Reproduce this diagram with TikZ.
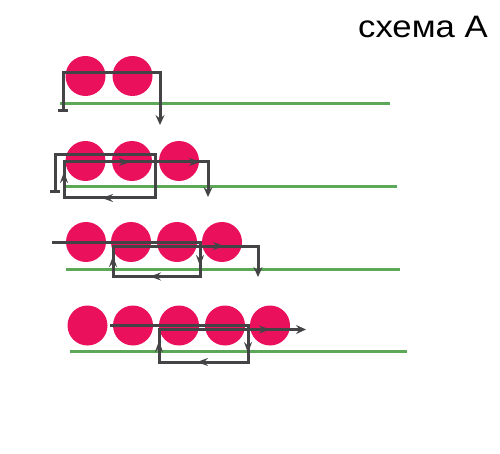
\documentclass[tikz,border=0pt]{standalone}
\usepackage{fontspec}
\setmainfont{Liberation Sans}
\usetikzlibrary{arrows.meta}
\definecolor{ball}{RGB}{234,16,92}
\definecolor{rail}{RGB}{92,168,88}
\definecolor{wire}{RGB}{68,68,70}
\tikzset{
  ballc/.style={fill=ball,draw=none},
  railline/.style={draw=rail,line width=3pt},
  wirepath/.style={draw=wire,line width=3pt,line join=miter},
  tipend/.style={-{Stealth[length=10pt,width=9pt,inset=3.5pt]}},
  barstart/.style={{Bar[width=10pt,line width=3pt]}-{Stealth[length=10pt,width=9pt,inset=3.5pt]}},
  midtip/.style={draw=wire,line width=2.6pt,-{Stealth[length=11pt,width=8pt,inset=4pt]}}
}
\begin{document}
\begin{tikzpicture}[x=1pt,y=-1pt]
\useasboundingbox[fill=white] (0,0) rectangle (500,454);
% title
\node[anchor=base east,font=\fontsize{31}{36}\selectfont,inner sep=0pt,xscale=1.12] (title) at (488,38) {схема А};
% ---- row 1
\foreach \x/\n in {85.5/a,132.5/b}{\fill[ballc] (\x,76) circle (20);}
\draw[railline] (60,103.5) -- (390,103.5);
\coordinate (r1s) at (63,112);
\coordinate (r1a) at (63,73);
\coordinate (r1b) at (160,73);
\coordinate (r1e) at (160,125);
\draw[wirepath,barstart] (r1s) -- (r1a) -- (r1b) -- (r1e);
% ---- row 2
\foreach \x in {85.5,132,179}{\fill[ballc] (\x,161) circle (20);}
\draw[railline] (65,186.5) -- (397,186.5);
\coordinate (r2s) at (55,193);
\coordinate (r2a) at (55,155);
\coordinate (r2b) at (155,155);
\coordinate (r2c) at (155,198);
\coordinate (r2d) at (64,198);
\coordinate (r2f) at (64,162);
\coordinate (r2g) at (208,162);
\coordinate (r2e) at (208,197);
\draw[wirepath,barstart] (r2s) -- (r2a) -- (r2b) -- (r2c) -- (r2d) -- (r2f) -- (r2g) -- (r2e);
\draw[midtip] (114,198) -- (102,198);
\draw[midtip] (64,184) -- (64,172);
\draw[midtip] (118,162) -- (130,162);
\draw[midtip] (188,162) -- (200,162);
% ---- row 3
\foreach \x in {86,131,177,222}{\fill[ballc] (\x,242) circle (20);}
\draw[railline] (66,269) -- (400,269);
\coordinate (r3s) at (52,242);
\coordinate (r3a) at (200,242);
\coordinate (r3b) at (200,276.5);
\coordinate (r3c) at (113,276.5);
\coordinate (r3d) at (113,246);
\coordinate (r3f) at (258,246);
\coordinate (r3e) at (258,277);
\draw[wirepath,tipend] (r3s) -- (r3a) -- (r3b) -- (r3c) -- (r3d) -- (r3f) -- (r3e);
\draw[midtip] (200,254) -- (200,266);
\draw[midtip] (162,276.5) -- (150,276.5);
\draw[midtip] (113,268) -- (113,256);
\draw[midtip] (212,246) -- (224,246);
% ---- row 4
\foreach \x in {87.5,133,179,225,270}{\fill[ballc] (\x,325.5) circle (20);}
\draw[railline] (70,351.5) -- (407,351.5);
\coordinate (r4s) at (110,325);
\coordinate (r4a) at (248,325);
\coordinate (r4b) at (248,362);
\coordinate (r4c) at (159,362);
\coordinate (r4d) at (159,329.5);
\coordinate (r4e) at (306,329.5);
\draw[wirepath,tipend] (r4s) -- (r4a) -- (r4b) -- (r4c) -- (r4d) -- (r4e);
\draw[midtip] (248,341) -- (248,353);
\draw[midtip] (209,362) -- (197,362);
\draw[midtip] (159,353) -- (159,341);
\draw[midtip] (258,329.5) -- (270,329.5);
\end{tikzpicture}
\end{document}
